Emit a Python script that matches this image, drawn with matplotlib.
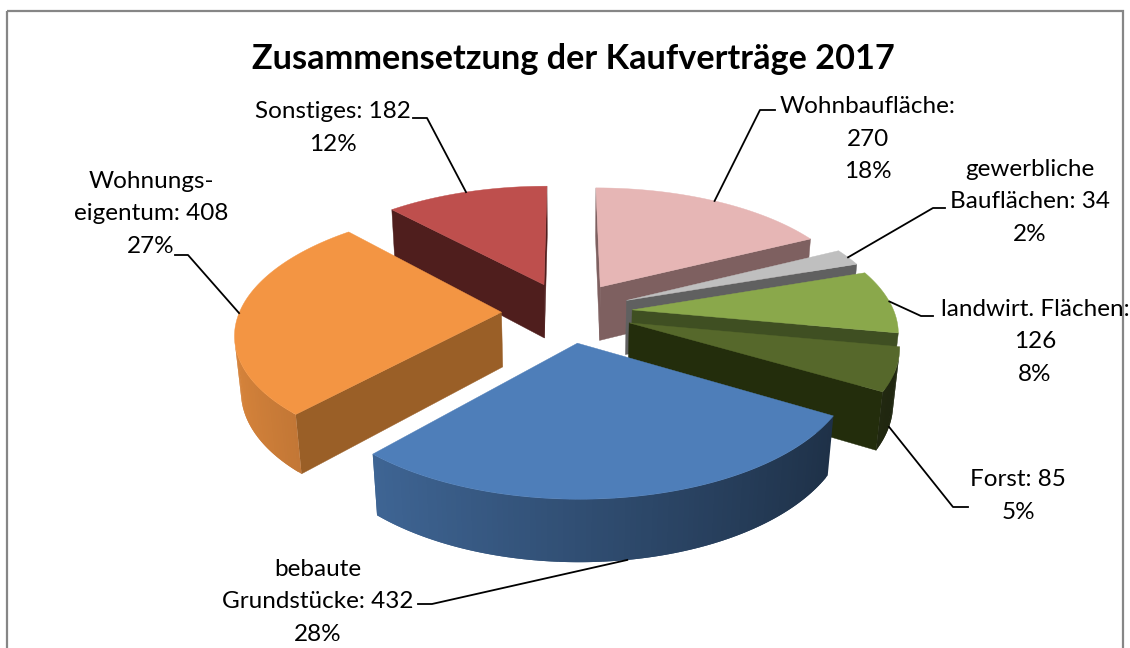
import numpy as np
import matplotlib
matplotlib.use("Agg")
import matplotlib.pyplot as plt
from matplotlib.patches import Polygon, Rectangle
from matplotlib.colors import to_rgb

# ---- data ----
names = ["Wohnbaufläche", "gewerbliche Bauflächen", "landwirt. Flächen", "Forst",
         "bebaute Grundstücke", "Wohnungseigentum", "Sonstiges"]
values = [270, 34, 126, 85, 432, 408, 182]
label_texts = ["Wohnbaufläche:\n270\n18%", "gewerbliche\nBauflächen: 34\n2%",
               "landwirt. Flächen:\n126\n8%", "Forst: 85\n5%",
               "bebaute\nGrundstücke: 432\n28%", "Wohnungs-\neigentum: 408\n27%",
               "Sonstiges: 182\n12%"]
top_colors = ["#E6B6B5", "#BFBFBF", "#8AA84B", "#56682B", "#4E7EB9", "#F39543", "#BE4F4D"]
side_colors = ["#7E6060", "#606060", "#3F4F22", "#232D0C", "#1F3350", "#9A5F27", "#4F1E1D"]
title = "Zusammensetzung der Kaufverträge 2017"

# ---- layout ----
W, H = 1130, 648
CX, CY = 567, 312
SCALE = 262
TILT = np.radians(27.6)
F = 5.77
DEPTH = 0.24
EXPLODE = 0.25
FONT = "Lato"
label_pos = [(868, 139), (1030, 202), (1035, 342), (1018, 496), (318, 602), (151, 214), (333, 128)]
leader_elbow = [[(775, 110), (760, 110)], [(945, 208), (933, 208)], [(933, 316), (921, 316)],
                [(968, 507), (953, 507)], [(418, 604), (432, 604)], [(175, 255), (188, 255)],
                [(413, 118), (427, 118)]]
leader_depth = [0, 0, 0, 1.0, 1.0, 0, 0]
draw_order = [0, 6, 1, 2, 3, 5, 4]
CAM_Y = -F * np.cos(TILT)


def project(theta, r, z, ex, ey):
    X = r * np.sin(theta) + ex
    Y = r * np.cos(theta) + ey
    v = Y * np.sin(TILT) + z * np.cos(TILT)
    d = Y * np.cos(TILT) - z * np.sin(TILT)
    s = F / (F + d)
    return CX + SCALE * X * s, CY - SCALE * v * s


def shade(col, theta):
    k = 0.62 - 0.27 * np.sin(theta)
    return tuple(c * k for c in to_rgb(col))


fig = plt.figure(figsize=(W / 100, H / 100), dpi=100)
ax = fig.add_axes([0, 0, 1, 1])
ax.set_xlim(0, W)
ax.set_ylim(H, 0)
ax.axis("off")

ax.add_patch(Rectangle((7, 11), 1116, 650, fill=False, ec="#868686", lw=1.6))
ax.text(573, 59, title, ha="center", va="center", fontsize=24.7, fontweight="bold",
        family=FONT, color="black")

fracs = np.array(values) / sum(values)
edges = np.concatenate([[0], np.cumsum(fracs)]) * 2 * np.pi

for i in draw_order:
    a0, a1 = edges[i], edges[i + 1]
    mid = (a0 + a1) / 2
    ex, ey = EXPLODE * np.sin(mid), EXPLODE * np.cos(mid)
    ang = np.linspace(a0, a1, max(int(np.degrees(a1 - a0)), 6) + 1)
    # radial walls (only those turned to the camera)
    for a, sign in ((a0, -1), (a1, 1)):
        nx, ny = sign * np.cos(a), -sign * np.sin(a)
        if -ex * nx + (CAM_Y - ey) * ny > 0:
            pts = [project(a, 0, 0, ex, ey), project(a, 1, 0, ex, ey),
                   project(a, 1, -DEPTH, ex, ey), project(a, 0, -DEPTH, ex, ey)]
            ax.add_patch(Polygon(pts, closed=True, fc=side_colors[i], ec=side_colors[i], lw=0.3))
    # outer wall: each strip overlaps the next one so no seams appear
    for k in range(len(ang) - 1):
        b0, b1 = ang[k], ang[min(k + 2, len(ang) - 1)]
        bm = (ang[k] + ang[k + 1]) / 2
        X, Y = np.sin(bm) + ex, np.cos(bm) + ey
        if -X * np.sin(bm) + (CAM_Y - Y) * np.cos(bm) <= 0:
            continue
        seg = np.linspace(b0, b1, 4)
        pts = [project(b, 1, 0, ex, ey) for b in seg] + [project(b, 1, -DEPTH, ex, ey) for b in seg[::-1]]
        ax.add_patch(Polygon(pts, closed=True, fc=shade(top_colors[i], bm), ec="none"))
    # top
    pts = [project(0, 0, 0, ex, ey)] + [project(a, 1, 0, ex, ey) for a in ang]
    ax.add_patch(Polygon(pts, closed=True, fc=top_colors[i], ec=top_colors[i], lw=0.3))

for i, txt in enumerate(label_texts):
    x, y = label_pos[i]
    ax.text(x, y, txt, ha="center", va="center", fontsize=17.5, family=FONT, color="black",
            linespacing=1.66, clip_on=True)
    mid = (edges[i] + edges[i + 1]) / 2
    ex, ey = EXPLODE * np.sin(mid), EXPLODE * np.cos(mid)
    end = project(mid, 1, -DEPTH * leader_depth[i], ex, ey)
    pl = leader_elbow[i] + [end]
    ax.plot([p[0] for p in pl], [p[1] for p in pl], color="black", lw=1.3, solid_joinstyle="round")

fig.savefig("out.png", dpi=100)
